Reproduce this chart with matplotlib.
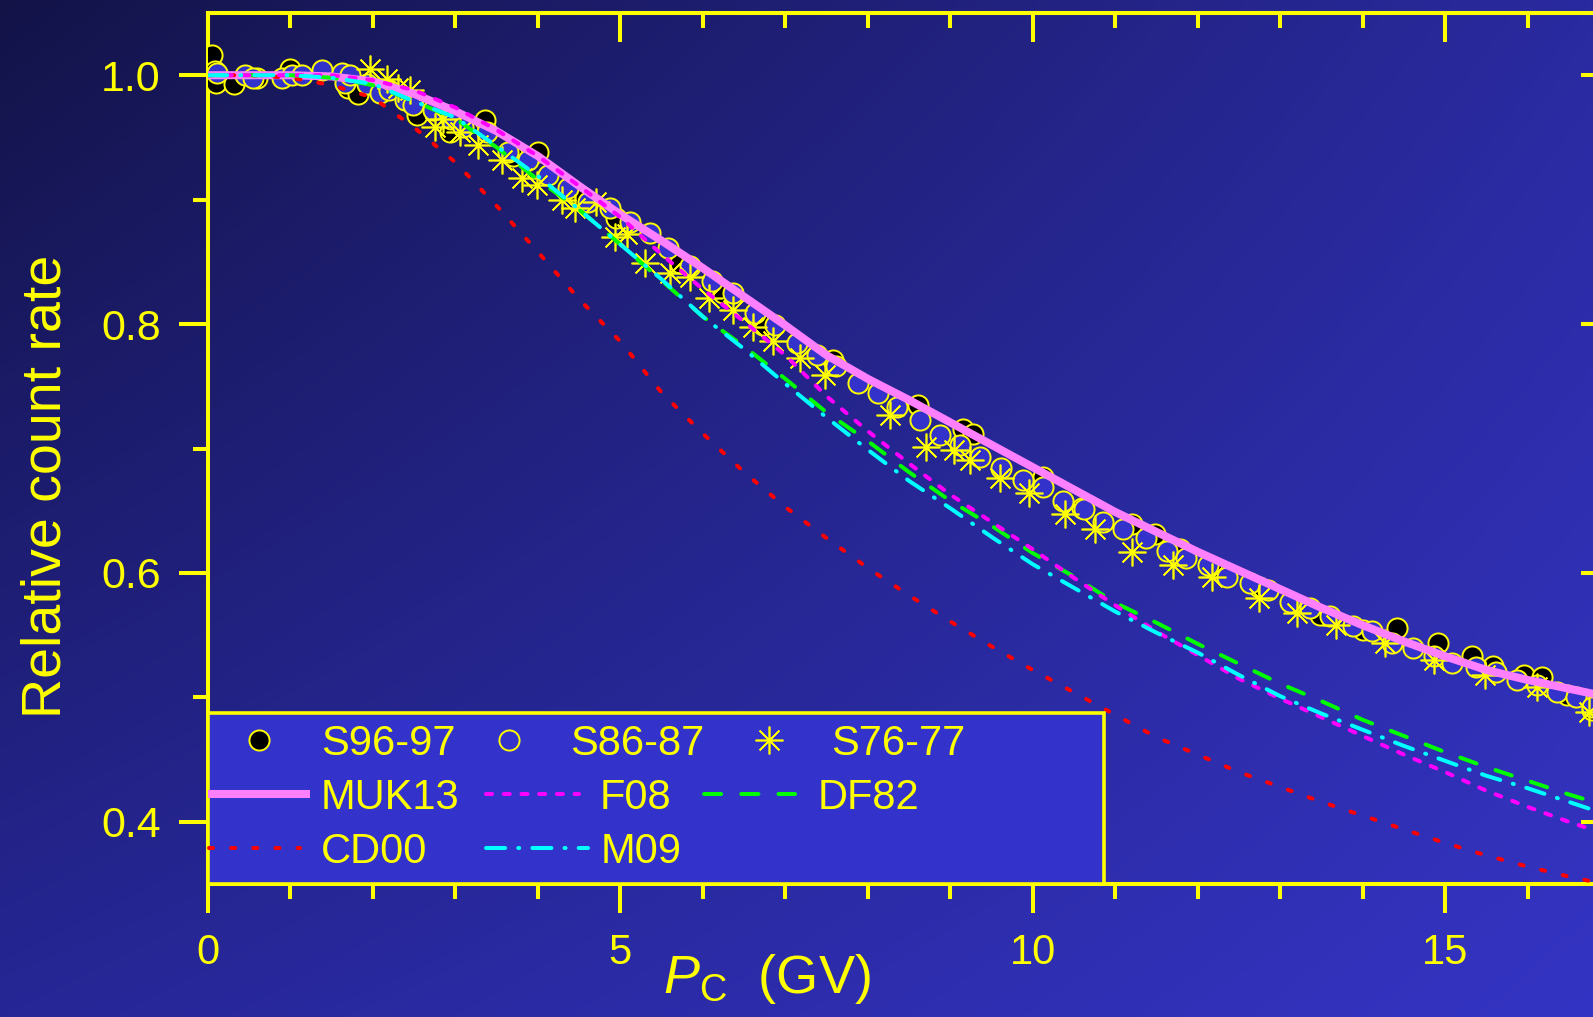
import numpy as np
import matplotlib
matplotlib.use("Agg")
import matplotlib.pyplot as plt
from matplotlib.lines import Line2D
from matplotlib.patches import Rectangle
from matplotlib.ticker import FixedLocator, MultipleLocator

plt.rcParams['font.family'] = ['Liberation Sans', 'DejaVu Sans']
plt.rcParams['mathtext.fontset'] = 'custom'
plt.rcParams['mathtext.rm'] = 'Liberation Sans'
plt.rcParams['mathtext.it'] = 'Liberation Sans:italic'

YELLOW = '#ffff00'
BOX_BLUE = '#3333cc'

# ---------------- data ----------------
# cutoff rigidity grid for the model curves (GV)
pc_grid = [0.0, 0.5, 1.0, 1.5, 2.0, 2.5, 3.0, 3.5, 4.0, 4.5, 5.0, 5.5, 6.0, 6.5,
           7.0, 7.5, 8.0, 8.5, 9.0, 9.5, 10.0, 10.5, 11.0, 11.5, 12.0, 12.5,
           13.0, 13.5, 14.0, 14.5, 15.0, 15.5, 16.0, 16.5, 17.0]

muk13 = [1.000, 1.000, 1.000, 0.999, 0.995, 0.985, 0.971, 0.955, 0.935, 0.911,
         0.888, 0.867, 0.845, 0.822, 0.799, 0.775, 0.756, 0.739, 0.721, 0.703,
         0.685, 0.667, 0.649, 0.633, 0.617, 0.602, 0.587, 0.572, 0.558, 0.545,
         0.533, 0.522, 0.514, 0.507, 0.500]

f08 = [1.000, 1.000, 1.000, 1.000, 0.996, 0.988, 0.974, 0.956, 0.935, 0.911,
       0.886, 0.856, 0.828, 0.802, 0.775, 0.742, 0.714, 0.688, 0.663, 0.641,
       0.619, 0.596, 0.574, 0.553, 0.534, 0.515, 0.499, 0.484, 0.469, 0.454,
       0.440, 0.425, 0.412, 0.400, 0.389]

df82 = [1.000, 1.000, 1.000, 0.998, 0.992, 0.979, 0.965, 0.942, 0.916, 0.892,
        0.864, 0.835, 0.806, 0.782, 0.756, 0.729, 0.706, 0.681, 0.658, 0.638,
        0.616, 0.597, 0.576, 0.560, 0.543, 0.527, 0.511, 0.497, 0.482, 0.469,
        0.456, 0.444, 0.433, 0.422, 0.412]

m09 = [1.000, 1.000, 1.000, 0.998, 0.993, 0.979, 0.966, 0.943, 0.919, 0.892,
       0.864, 0.836, 0.806, 0.780, 0.752, 0.725, 0.699, 0.674, 0.652, 0.629,
       0.607, 0.588, 0.569, 0.552, 0.536, 0.518, 0.501, 0.487, 0.474, 0.461,
       0.449, 0.437, 0.427, 0.416, 0.405]

cd00 = [1.000, 1.000, 0.998, 0.992, 0.982, 0.958, 0.930, 0.895, 0.858, 0.820,
        0.786, 0.745, 0.712, 0.681, 0.653, 0.628, 0.604, 0.582, 0.561, 0.541,
        0.522, 0.504, 0.486, 0.468, 0.454, 0.440, 0.428, 0.416, 0.405, 0.394,
        0.383, 0.373, 0.364, 0.356, 0.349]

# survey 1996-97
s96_pc = [0.05, 0.08, 0.10, 0.32, 0.60, 1.00, 1.70, 1.82, 2.10, 2.53, 2.93,
          3.36, 3.70, 4.00, 4.50, 4.95, 5.72, 6.24, 6.73, 7.58, 8.61, 9.15,
          9.27, 10.13, 10.60, 11.21, 11.48, 11.78, 12.20, 12.75, 13.48, 14.00,
          14.42, 14.91, 15.33, 15.58, 15.96, 16.17, 16.48, 16.78]
s96_rate = [1.016, 1.003, 0.994, 0.993, 0.998, 1.005, 0.990, 0.985, 0.988,
            0.968, 0.954, 0.964, 0.935, 0.938, 0.904, 0.885, 0.849, 0.825,
            0.799, 0.771, 0.735, 0.716, 0.712, 0.677, 0.652, 0.639, 0.631,
            0.619, 0.604, 0.589, 0.566, 0.554, 0.556, 0.544, 0.533, 0.525,
            0.518, 0.516, 0.502, 0.490]

# survey 1986-87
s86_pc = [0.11, 0.45, 0.55, 0.90, 1.02, 1.14, 1.38, 1.62, 1.66, 1.72, 1.93,
          2.08, 2.20, 2.39, 2.49, 2.73, 2.95, 3.09, 3.38, 3.64, 3.88, 4.12,
          4.36, 4.61, 4.87, 5.12, 5.36, 5.58, 5.84, 6.11, 6.36, 6.63, 6.87,
          7.14, 7.38, 7.62, 7.88, 8.12, 8.36, 8.63, 8.87, 9.12, 9.36, 9.62,
          9.88, 10.12, 10.37, 10.62, 10.85, 11.10, 11.37, 11.63, 11.86, 12.12,
          12.35, 12.63, 12.85, 13.12, 13.36, 13.60, 13.88, 14.12, 14.36,
          14.61, 14.87, 15.09, 15.38, 15.62, 15.87, 16.11, 16.36, 16.59, 16.78]
s86_rate = [1.002, 1.000, 0.998, 0.998, 1.000, 1.000, 1.004, 1.002, 0.994,
            1.000, 0.993, 0.986, 0.988, 0.980, 0.976, 0.972, 0.965, 0.958,
            0.954, 0.938, 0.932, 0.920, 0.909, 0.898, 0.893, 0.882, 0.873,
            0.861, 0.847, 0.835, 0.825, 0.809, 0.799, 0.785, 0.775, 0.766,
            0.753, 0.745, 0.733, 0.723, 0.711, 0.703, 0.693, 0.684, 0.675,
            0.669, 0.658, 0.651, 0.641, 0.635, 0.628, 0.618, 0.612, 0.606,
            0.597, 0.592, 0.586, 0.577, 0.572, 0.565, 0.557, 0.553, 0.544,
            0.540, 0.533, 0.528, 0.524, 0.520, 0.514, 0.510, 0.504, 0.500,
            0.492]

# survey 1976-77
s76_pc = [1.96, 2.17, 2.30, 2.45, 2.75, 2.85, 3.05, 3.27, 3.56, 3.81, 3.99,
          4.29, 4.45, 4.71, 4.93, 5.08, 5.30, 5.60, 5.84, 6.08, 6.36, 6.61,
          6.85, 7.18, 7.48, 8.27, 8.71, 9.05, 9.24, 9.60, 9.96, 10.39, 10.76,
          11.21, 11.70, 12.17, 12.75, 13.21, 13.68, 14.27, 14.87, 15.48,
          16.12, 16.75]
s76_rate = [1.005, 0.997, 0.990, 0.988, 0.958, 0.965, 0.954, 0.944, 0.932,
            0.917, 0.912, 0.900, 0.893, 0.898, 0.870, 0.872, 0.849, 0.841,
            0.838, 0.821, 0.811, 0.798, 0.786, 0.773, 0.759, 0.727, 0.701,
            0.699, 0.691, 0.676, 0.664, 0.647, 0.635, 0.617, 0.606, 0.597,
            0.580, 0.568, 0.558, 0.544, 0.530, 0.518, 0.508, 0.488]

x_ticks = [0, 5, 10, 15]
x_ticklabels = ['0', '5', '10', '15']
y_ticks = [0.4, 0.6, 0.8, 1.0]
y_ticklabels = ['0.4', '0.6', '0.8', '1.0']
y_minor = [0.5, 0.7, 0.9]

# ---------------- figure ----------------
W, H = 1593, 1017
fig = plt.figure(figsize=(W / 100, H / 100), dpi=100)

# diagonal dark-to-light blue backdrop
bg = fig.add_axes([0, 0, 1, 1], zorder=-10)
yy, xx = np.mgrid[0:1:300j, 0:1:450j]
tl = np.array([19, 19, 72]); tr = np.array([42, 42, 160])
bl = np.array([38, 38, 150]); br = np.array([52, 52, 196])
img = (tl * ((1 - xx) * (1 - yy))[..., None] + tr * (xx * (1 - yy))[..., None]
       + bl * ((1 - xx) * yy)[..., None] + br * (xx * yy)[..., None]) / 255.0
bg.imshow(img, aspect='auto', extent=[0, 1, 0, 1], origin='upper',
          interpolation='bilinear')
bg.set_axis_off()

# plot area: right spine sits just beyond the image edge
ax_left, ax_right, ax_top, ax_bottom = 208, 1610, 13, 884
ax = fig.add_axes([ax_left / W, (H - ax_bottom) / H,
                   (ax_right - ax_left) / W, (ax_bottom - ax_top) / H])
ax.patch.set_alpha(0)
ax.set_xlim(0, 17)
ax.set_ylim(0.35, 1.05)

# measurements
CIRCLE = dict(marker='o', ms=14.5, mew=1.4, mec=YELLOW)
STAR = dict(marker=(8, 2, 0), ms=20, mew=1.2, mec=YELLOW)
ax.plot(s96_pc, s96_rate, ls='none', mfc='black', zorder=3, **CIRCLE)
ax.plot(s86_pc, s86_rate, ls='none', mfc=BOX_BLUE, zorder=4, **CIRCLE)
ax.plot(s76_pc, s76_rate, ls='none', color=YELLOW, zorder=5, **STAR)

# model curves
styles = {
    'MUK13': dict(color='#ff80ff', lw=5.8, solid_capstyle='butt'),
    'CD00': dict(color='#ff0000', lw=2.9, dashes=(1.0, 4.5), dash_capstyle='round'),
    'DF82': dict(color='#00ff00', lw=2.9, dashes=(4.25, 5.0), dash_capstyle='round'),
    'F08': dict(color='#ff00ff', lw=2.9, dashes=(1.5, 2.9), dash_capstyle='round'),
    'M09': dict(color='#00ffff', lw=2.9, dashes=(4.75, 3.25, 0.25, 3.25),
                dash_capstyle='round'),
}
ax.plot(pc_grid, muk13, zorder=6, **styles['MUK13'])
ax.plot(pc_grid, cd00, zorder=7, **styles['CD00'])
ax.plot(pc_grid, df82, zorder=8, **styles['DF82'])
ax.plot(pc_grid, f08, zorder=9, **styles['F08'])
ax.plot(pc_grid, m09, zorder=10, **styles['M09'])

# axes styling
LW = 2.9
for side in ('left', 'bottom', 'top'):
    ax.spines[side].set_color(YELLOW)
    ax.spines[side].set_linewidth(LW)
ax.spines['right'].set_visible(False)

ax.set_xticks(x_ticks, x_ticklabels)
ax.xaxis.set_minor_locator(MultipleLocator(1))
ax.set_yticks(y_ticks, y_ticklabels)
ax.yaxis.set_minor_locator(FixedLocator(y_minor))
ax.tick_params(which='major', direction='out', length=21, width=LW,
               color=YELLOW, labelcolor=YELLOW, top=False, right=False)
ax.tick_params(which='minor', direction='out', length=10.8, width=LW,
               color=YELLOW, top=False, right=False)
ax.tick_params(axis='x', labelsize=30, pad=14)
ax.tick_params(axis='y', labelsize=31, pad=13)

secx = ax.secondary_xaxis('top')
secx.set_xticks(x_ticks)
secx.xaxis.set_minor_locator(MultipleLocator(1))
secx.tick_params(which='major', direction='in', length=21, width=LW,
                 color=YELLOW, labeltop=False)
secx.tick_params(which='minor', direction='in', length=10.8, width=LW,
                 color=YELLOW)
secx.spines['top'].set_color(YELLOW)
secx.spines['top'].set_linewidth(LW)

secy = ax.secondary_yaxis('right')
secy.set_yticks(y_ticks)
secy.yaxis.set_minor_locator(FixedLocator(y_minor))
secy.tick_params(which='major', direction='in', length=21, width=LW,
                 color=YELLOW, labelright=False)
secy.tick_params(which='minor', direction='in', length=10.8, width=LW,
                 color=YELLOW)
secy.spines['right'].set_visible(False)


def fx(px):
    return (px - ax_left) / (ax_right - ax_left)


def fy(py):
    return (ax_bottom - py) / (ax_bottom - ax_top)


ax.set_xlabel(r'$P_{\mathrm{C}}$  (GV)', fontsize=39, color=YELLOW)
ax.xaxis.label.set_ha('left')
ax.xaxis.label.set_va('baseline')
ax.xaxis.set_label_coords(fx(663), fy(993))

ax.set_ylabel('Relative count rate', fontsize=40, color=YELLOW)
ax.yaxis.label.set_va('center')
ax.yaxis.set_label_coords(fx(46), fy(486))

# legend panel
box = Rectangle((0, 0), fx(1104), fy(713), transform=ax.transAxes,
                facecolor=BOX_BLUE, edgecolor=YELLOW, lw=2.6, zorder=20,
                clip_on=False)
ax.add_patch(box)

row_y = [740, 794, 848]
marker_entries = [
    ('S96-97', dict(mfc='black', **CIRCLE), 259, 321),
    ('S86-87', dict(mfc=BOX_BLUE, **CIRCLE), 509, 570),
    ('S76-77', dict(STAR), 769, 831),
]
for label, st, xm, xt in marker_entries:
    ax.add_line(Line2D([fx(xm)], [fy(row_y[0])], ls='none', transform=ax.transAxes,
                       zorder=21, clip_on=False, **st))
    ax.text(fx(xt), fy(row_y[0] + 15), label, transform=ax.transAxes,
            fontsize=30, color=YELLOW, va='baseline', ha='left', zorder=22)

line_entries = [
    ('MUK13', 1, 208, 310, 321),
    ('F08', 1, 486, 579, 600),
    ('DF82', 1, 704, 795, 818),
    ('CD00', 2, 209, 300, 321),
    ('M09', 2, 486, 588, 601),
]
for label, row, x0, x1, xt in line_entries:
    ax.add_line(Line2D([fx(x0), fx(x1)], [fy(row_y[row])] * 2,
                       transform=ax.transAxes, zorder=21, clip_on=False,
                       **styles[label]))
    ax.text(fx(xt), fy(row_y[row] + 15), label, transform=ax.transAxes,
            fontsize=30, color=YELLOW, va='baseline', ha='left', zorder=22)

fig.savefig('out.png', dpi=100)
